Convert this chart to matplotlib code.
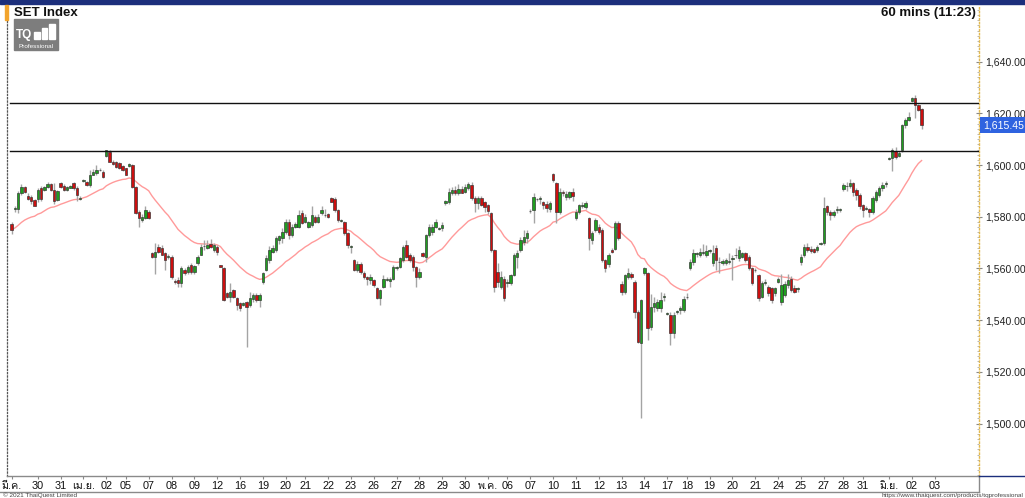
import numpy as np
import pandas as pd
import matplotlib
matplotlib.use("Agg")
import matplotlib.pyplot as plt
from matplotlib import font_manager
from matplotlib.ft2font import FT2Font
from matplotlib.patches import Rectangle
from matplotlib.lines import Line2D
from matplotlib.ticker import MultipleLocator
from matplotlib.transforms import blended_transform_factory

# ----------------------------------------------------------------------------
# data: SET Index, 60 min bars, 29 Mar - 2 Jun
# ----------------------------------------------------------------------------
opens = [
    1577, 1583, 1583, 1589, 1591.5, 1588, 1587.5, 1586.5, 1587, 1591,
    1590.5, 1591.5, 1592.5, 1590.5, 1586.5, 1593, 1592, 1590.4, 1591.3, 1593,
    1591, 1587, 1594, 1593.6, 1592.3, 1596.2, 1596.8, 1598, 1597.4, 1603.3,
    1605.2, 1601.3, 1601, 1600.6, 1599.6, 1598.7, 1599.6, 1600, 1591.6, 1582,
    1578.7, 1579.4, 1582, 1566, 1564.5, 1568.2, 1567.8, 1565.8, 1564.5, 1564.5,
    1555, 1555.5, 1554.2, 1559.4, 1558.7, 1561.3, 1558.5, 1562, 1565.2, 1568.5,
    1567.8, 1569.5, 1567.1, 1568.4, 1561.3, 1560, 1550.4, 1549.1, 1551.6, 1548.4,
    1546.5, 1546, 1547.1, 1545.8, 1548.1, 1549.7, 1547.8, 1554.9, 1559.4, 1563.2,
    1566.5, 1567.1, 1571, 1571.6, 1574.2, 1578.1, 1572.9, 1576.1, 1576.1, 1581.3,
    1578, 1576.1, 1576.8, 1580, 1578.1, 1581.3, 1580.5, 1581, 1587.1, 1586.7,
    1582.6, 1578.4, 1578.1, 1573.6, 1568.4, 1563.2, 1559.4, 1561.9, 1558.3, 1556.5,
    1555.5, 1555.5, 1552.3, 1548.4, 1552.9, 1555.6, 1555.1, 1556.1, 1560.3, 1560.7,
    1563.2, 1569, 1565.2, 1564.5, 1560.7, 1556.8, 1565.8, 1564.5, 1572.9, 1574.2,
    1576.1, 1575.3, 1575.5, 1585.2, 1585.8, 1589, 1590.3, 1589, 1590.9, 1589.7,
    1591.3, 1592.2, 1587.1, 1585.2, 1587.1, 1585.5, 1584.5, 1581.3, 1567.1, 1558.7,
    1552.9, 1556.1, 1554.2, 1554.2, 1557.5, 1564.5, 1567.1, 1570.3, 1571.6, 1582.1,
    1582.6, 1586.7, 1586.7, 1585.5, 1584.8, 1582.9, 1596.5, 1593.2, 1581.9, 1589.7,
    1587.5, 1587.7, 1589.7, 1579.4, 1581.9, 1584.3, 1583.9, 1579.4, 1571, 1574.9,
    1576.1, 1574.9, 1563.2, 1561.9, 1567.3, 1567.7, 1577.7, 1554, 1551, 1556.8,
    1557.8, 1554.9, 1543.3, 1531, 1558.1, 1558.1, 1537.4, 1545.2, 1544.5, 1544.5,
    1548.8, 1542.5, 1542, 1534.9, 1543.2, 1543.9, 1543.9, 1548.8, 1560, 1562.6,
    1565.6, 1565.2, 1566, 1565.2, 1566.8, 1562, 1567.8, 1562.4, 1562, 1562,
    1562.5, 1563.8, 1565.1, 1563.9, 1564.5, 1565.8, 1564.5, 1560, 1559.2, 1557.4,
    1549.1, 1554.2, 1552.9, 1552.3, 1550.4, 1554.9, 1547.1, 1549.7, 1553.6, 1555.8,
    1552.3, 1552.2, 1562.6, 1565.2, 1568.4, 1567.7, 1567.7, 1567.1, 1569.6, 1569.7,
    1584.1, 1581.9, 1580.6, 1582.7, 1582.7, 1590.6, 1591.8, 1591.9, 1592.9, 1590.3,
    1588.4, 1584.5, 1583.1, 1582.8, 1581.9, 1586.5, 1588.4, 1591, 1592.8, 1602.4,
    1602.6, 1605.5, 1603.5, 1605.8, 1615.4, 1617.6, 1624.9, 1625.8, 1623.2, 1621.5,
]
highs = [
    1578, 1584, 1590, 1592.5, 1592, 1589, 1588.5, 1587, 1591, 1592,
    1592, 1593.5, 1593, 1593, 1590.5, 1593.5, 1592.5, 1592, 1592.3, 1593.5,
    1592, 1588, 1594.5, 1594, 1598, 1598.5, 1600, 1598.8, 1598, 1606,
    1605.8, 1602, 1601.5, 1601, 1600, 1599, 1600.8, 1600.5, 1592, 1582.5,
    1581, 1584, 1582.5, 1566.5, 1569.7, 1569.5, 1569, 1566.5, 1565.5, 1565,
    1556, 1556.8, 1561, 1560, 1561.5, 1562, 1561.5, 1565, 1569.5, 1571,
    1571, 1571.5, 1570, 1569, 1561.5, 1560.5, 1551, 1554.5, 1552, 1549,
    1547, 1547, 1547.5, 1551, 1550.5, 1550.5, 1550.5, 1558.5, 1565, 1568.5,
    1569, 1572.5, 1573, 1575.5, 1579, 1579, 1577, 1578, 1582.5, 1582.5,
    1581, 1578.5, 1584, 1580.5, 1581, 1584, 1583, 1581.5, 1587.5, 1587.5,
    1583, 1579, 1578.5, 1574, 1569, 1563.5, 1563, 1562.5, 1559, 1557,
    1558, 1556, 1553, 1552, 1557.5, 1556.5, 1556.5, 1561.5, 1561, 1564.5,
    1569, 1571, 1566, 1565, 1561, 1560, 1566.5, 1573.5, 1577, 1577,
    1579, 1576, 1578, 1586.5, 1591, 1591.5, 1592, 1592.5, 1592, 1592.5,
    1593.5, 1593.5, 1588, 1588, 1588, 1586, 1585, 1582, 1567.5, 1562,
    1559, 1557, 1556, 1558, 1566, 1567, 1572, 1575, 1575, 1583,
    1589, 1587.3, 1588, 1586, 1586, 1586, 1597, 1593.5, 1591, 1590.5,
    1590, 1590, 1591, 1583, 1585, 1585.8, 1586, 1580, 1574.5, 1579.5,
    1577, 1575.5, 1563.5, 1566, 1568, 1578.5, 1578.5, 1555, 1558, 1560,
    1558.5, 1555.5, 1544, 1548, 1560.5, 1558.5, 1550, 1549, 1548, 1551,
    1550.5, 1543.2, 1543, 1543, 1544, 1545.5, 1549.5, 1550.5, 1563.5, 1567.5,
    1566.5, 1568, 1569.5, 1569, 1567.5, 1569, 1569, 1564.5, 1563.5, 1564,
    1565.8, 1565, 1567.8, 1568.5, 1566.5, 1566.5, 1565, 1560.5, 1560, 1558,
    1555, 1556, 1553.5, 1553, 1553, 1556.5, 1558, 1555, 1558, 1557,
    1553.5, 1553, 1565.5, 1569.5, 1570, 1568.5, 1568, 1569, 1570.2, 1587.5,
    1584.5, 1582.5, 1582.5, 1584, 1583.5, 1593, 1593.5, 1594.5, 1593.5, 1591,
    1589, 1585, 1584, 1583.5, 1588, 1590.5, 1592, 1593.5, 1594, 1603.2,
    1606.5, 1607, 1605.5, 1616, 1618, 1620.5, 1626.3, 1627, 1623.5, 1622,
]
lows = [
    1573.5, 1582, 1581.5, 1588.5, 1589, 1586.5, 1585, 1584, 1585.8, 1586,
    1590, 1591, 1590, 1585, 1586, 1591, 1590, 1590, 1591, 1590.5,
    1586, 1586.5, 1593.5, 1592, 1591.6, 1596, 1596.2, 1597.5, 1595, 1603,
    1601, 1600, 1599, 1598.5, 1597.5, 1596, 1599.3, 1591, 1581, 1576,
    1578, 1579, 1579, 1564, 1558, 1566, 1565, 1559.4, 1563.5, 1556,
    1554, 1552.9, 1553, 1557.5, 1558, 1558, 1558, 1561.5, 1565, 1567,
    1567.5, 1568, 1566.5, 1565, 1560.5, 1547.5, 1548.5, 1547, 1548.5, 1544,
    1543.5, 1545.5, 1529.6, 1545, 1547, 1547, 1545, 1554, 1559, 1562,
    1566, 1566.5, 1569.5, 1570, 1573.5, 1571.5, 1572, 1575.5, 1575.5, 1577,
    1577.5, 1575.5, 1576, 1577.5, 1577.5, 1580.5, 1580, 1579.5, 1585.5, 1582,
    1578, 1578, 1573, 1568, 1565.8, 1559, 1558.5, 1558, 1556, 1553.5,
    1554, 1553, 1548, 1546, 1552.5, 1555, 1553, 1555.5, 1559.5, 1560,
    1562.5, 1564, 1562.5, 1559, 1553, 1556, 1564.5, 1562.5, 1572, 1573,
    1575.5, 1575, 1574.5, 1584.5, 1585, 1588.5, 1588.5, 1588.5, 1589, 1589,
    1590.5, 1586.5, 1582, 1583, 1584, 1582, 1581, 1566.5, 1551, 1553,
    1552, 1547.5, 1553, 1553.5, 1557, 1560, 1566.5, 1569, 1570, 1581.5,
    1577.5, 1586.2, 1585, 1583, 1582, 1582, 1593.5, 1577.5, 1581, 1588,
    1586.5, 1587, 1586, 1578.7, 1581, 1583.2, 1583, 1567, 1569.5, 1574,
    1573.5, 1562.5, 1558.5, 1560.5, 1566, 1567, 1571, 1549.7, 1550, 1556,
    1556, 1541, 1531, 1502, 1557.5, 1532.5, 1536, 1543, 1543.5, 1543,
    1547.5, 1542, 1530.5, 1533, 1542.5, 1542.5, 1543, 1548, 1559.5, 1561.5,
    1564.5, 1564.5, 1565, 1564.5, 1566, 1561, 1559.5, 1558.1, 1561.5, 1561.5,
    1561.6, 1555.5, 1563.9, 1563, 1564, 1562.5, 1559.5, 1553.5, 1558.5, 1547.5,
    1548.5, 1553.5, 1549.5, 1546.5, 1549.5, 1554.5, 1546, 1549, 1552.5, 1551,
    1550.5, 1551, 1561.5, 1564.5, 1566.5, 1566, 1566, 1566.5, 1569, 1569,
    1580.5, 1578.7, 1580, 1581.5, 1582, 1590, 1590, 1591, 1588, 1586.5,
    1583, 1580, 1582.5, 1580, 1581, 1585.5, 1587.5, 1590, 1591.5, 1602,
    1597.5, 1602.5, 1603, 1605, 1614.5, 1617, 1624.5, 1618, 1620.8, 1614,
]
closes = [
    1575, 1583.5, 1589, 1591.5, 1589.5, 1587, 1586, 1584, 1590.5, 1587,
    1591.5, 1592.8, 1590.5, 1586, 1590, 1591.5, 1590.5, 1591.6, 1591.8, 1591,
    1588.5, 1587.3, 1594, 1592.3, 1596.2, 1597.4, 1598.1, 1598.2, 1595.3, 1605.8,
    1601.3, 1600.4, 1599.4, 1598.7, 1598.1, 1596.2, 1600.2, 1591.6, 1581.3, 1579.4,
    1580, 1582.6, 1579.4, 1564.5, 1566.4, 1566.4, 1565.2, 1563.3, 1564.7, 1556.8,
    1554.9, 1554.2, 1560, 1558.1, 1560.6, 1558.7, 1561, 1564.5, 1568.4, 1568.7,
    1569.1, 1568.4, 1569.1, 1566.5, 1560.7, 1547.8, 1549.1, 1551, 1549.1, 1545.8,
    1544.6, 1546.5, 1545.2, 1548.4, 1549.7, 1547.8, 1549.7, 1558.1, 1563.9, 1567.1,
    1567.8, 1571.6, 1572.5, 1574.2, 1578.1, 1572.9, 1576.1, 1577, 1580.6, 1577.4,
    1580, 1578.1, 1580.6, 1578.1, 1580, 1582.6, 1580.7, 1580, 1585.8, 1582.6,
    1578.7, 1578.6, 1573.6, 1569, 1568.5, 1559.4, 1561.9, 1558.7, 1556.8, 1555.8,
    1556.8, 1553.6, 1548.4, 1551.6, 1556.1, 1555.8, 1555.8, 1560.7, 1560.4, 1563.9,
    1568.4, 1564.5, 1563.2, 1560.7, 1556.8, 1558.7, 1564.8, 1572.9, 1576.1, 1576.1,
    1578.1, 1575.5, 1576.8, 1586.2, 1589.7, 1590.3, 1589, 1590.9, 1589.3, 1591.6,
    1592.6, 1587.1, 1585.2, 1587.1, 1584.5, 1583.9, 1582.3, 1567.1, 1552.9, 1554.9,
    1556.8, 1548.4, 1554.9, 1557.5, 1565.2, 1565.8, 1571, 1572.3, 1573.6, 1582.4,
    1587.7, 1586.9, 1587.4, 1584.5, 1583.2, 1585.2, 1594.2, 1581.9, 1589.7, 1589.1,
    1588.8, 1589.7, 1588.1, 1581.9, 1584.5, 1584.5, 1585.2, 1571.6, 1573.6, 1578.7,
    1574.2, 1563.2, 1560, 1565.2, 1566.5, 1577.7, 1571.6, 1551, 1557.4, 1558.1,
    1556.8, 1543.3, 1531.6, 1547.8, 1560.1, 1536.8, 1545.2, 1546.8, 1547.1, 1547.8,
    1549.2, 1542.7, 1534.9, 1542, 1543.4, 1544.8, 1548, 1549.1, 1562.6, 1565.8,
    1565.8, 1566.5, 1566.2, 1566.8, 1566.9, 1566.1, 1563.2, 1562.6, 1562.9, 1563.2,
    1562.7, 1564, 1565.3, 1567.1, 1565.8, 1563.2, 1560, 1554.2, 1559.5, 1548.4,
    1554.2, 1554.9, 1550.4, 1547.8, 1552.3, 1555.8, 1553.6, 1553.9, 1555.5, 1551.6,
    1551, 1552.4, 1564.5, 1568.4, 1567.1, 1566.8, 1566.5, 1568.4, 1569.8, 1583.2,
    1581.9, 1580.6, 1581.9, 1582.9, 1582.9, 1592.3, 1592, 1592.9, 1589.7, 1588.4,
    1584.1, 1582.6, 1583.3, 1581.9, 1587.1, 1589.7, 1591, 1592.3, 1593, 1602.8,
    1605.8, 1603.2, 1604.8, 1615.5, 1617.4, 1618.4, 1625.8, 1623.2, 1621.3, 1615.45,
]

# trading days shown on the time axis and the number of hourly bars in each
day_labels = ['มี.ค.', '30', '31', 'เม.ย.', '02', '05', '07', '08', '09', '12',
              '16', '19', '20', '21', '22', '23', '26', '27', '28', '29',
              '30', 'พ.ค.', '06', '07', '10', '11', '12', '13', '14', '17',
              '18', '19', '20', '21', '24', '25', '27', '28', '31', 'มิ.ย.',
              '02', '03']
day_slots = [8, 7, 7, 7, 6, 7, 7, 7, 7, 7,
             7, 7, 6, 7, 7, 7, 7, 7, 7, 7,
             7, 6, 7, 7, 7, 7, 7, 7, 7, 6,
             7, 7, 7, 7, 7, 7, 6, 6, 8, 7,
             7]

# horizontal support / resistance lines drawn by the user
levels = [1624.0, 1605.4]
price_ticks = [1500, 1520, 1540, 1560, 1580, 1600, 1620, 1640]
ma_span = 25

# ----------------------------------------------------------------------------
# fonts (Thai month names need a font with Thai glyphs)
# ----------------------------------------------------------------------------
def find_thai_font():
    for f in font_manager.fontManager.ttflist:
        try:
            if 0x0E21 in FT2Font(f.fname).get_charmap():
                return f.name
        except Exception:
            pass
    return None

thai = find_thai_font()
families = ['Liberation Sans']
if thai:
    families.append(thai)
families.append('DejaVu Sans')
plt.rcParams['font.family'] = families

# ----------------------------------------------------------------------------
# figure
# ----------------------------------------------------------------------------
W, H = 1025, 498
fig = plt.figure(figsize=(W / 100, H / 100), dpi=100)
fig.patch.set_facecolor('white')
ax = fig.add_axes([7 / W, 1 - 476 / H, (979 - 7) / W, (476 - 5) / H])

o = np.array(opens)
h = np.array(highs)
l = np.array(lows)
c = np.array(closes)
x = np.arange(len(c))
up = c >= o

# wicks
ax.vlines(x, l, h, color='#a4a4a4', lw=1.0, zorder=2)
# bodies
body_lo = np.minimum(o, c)
body_h = np.maximum(np.abs(c - o), 0.15)
colors = np.where(up, '#1f9e1f', '#cc0f0f')
ax.bar(x, body_h, bottom=body_lo, width=0.74, color=colors,
       edgecolor='#303030', linewidth=0.45, zorder=3)

# exponential moving average of the closes
ma = pd.Series(c).ewm(span=ma_span, adjust=False).mean()
ax.plot(x, ma, color='#ff9a9a', lw=1.0, zorder=1)

for lv in levels:
    ax.axhline(lv, xmin=0.003, color='#111111', lw=1.0, zorder=4)

ax.set_xlim(-1.44, 296.6)
ax.set_ylim(1479.7, 1661.9)

# axes styling
ax.spines['top'].set_visible(False)
ax.spines['left'].set_linestyle(':')
ax.spines['left'].set_color('#555555')
ax.spines['left'].set_linewidth(0.9)
ax.spines['right'].set_linestyle(':')
ax.spines['right'].set_color('#e3b94e')
ax.spines['right'].set_linewidth(1.0)
ax.spines['bottom'].set_color('#8a8a8a')
ax.spines['bottom'].set_linewidth(1.0)

ax.yaxis.tick_right()
ax.set_yticks(price_ticks)
ax.set_yticklabels([f"{v:,.2f}" for v in price_ticks])
ax.yaxis.set_minor_locator(MultipleLocator(2))
ax.tick_params(axis='y', which='major', direction='inout', length=4, pad=2.5,
               labelsize=7.6, colors='#888888', labelcolor='#222222')
ax.tick_params(axis='y', which='minor', direction='in', length=1.5,
               color='#aaaaaa')
ax.tick_params(axis='y', which='both', left=False)

tick_pos = np.concatenate([[0], np.cumsum(day_slots)])
ax.set_xticks(tick_pos)
ax.set_xticklabels(day_labels)
ax.tick_params(axis='x', length=2, pad=1.5, color='#888888', labelsize=7.8,
               labelcolor='#111111')

# current price tag
tr = blended_transform_factory(ax.transAxes, ax.transData)
ax.text(1.004, c[-1], f"{c[-1]:,.2f}", transform=tr, color='white',
        fontsize=7.6, va='center', ha='left', zorder=6,
        bbox=dict(boxstyle='square,pad=0.25', fc='#2f63e0', ec='none'))

# ----------------------------------------------------------------------------
# frame decorations
# ----------------------------------------------------------------------------
def fx(px):
    return px / W

def fy(py):
    return 1 - py / H

fig.add_artist(Rectangle((0, fy(4)), 1, 4 / H, transform=fig.transFigure,
                         color='#1c2f7c', zorder=5))
fig.add_artist(Rectangle((fx(5), fy(20)), 2.5 / W, 15 / H,
                         transform=fig.transFigure, color='#f2a42c', zorder=5))
fig.add_artist(Line2D([0, fx(979)], [fy(492), fy(492)], color='#8a8a8a', lw=1))
fig.add_artist(Line2D([fx(979), fx(979)], [fy(476), fy(492)], color='#8a8a8a', lw=1))
fig.add_artist(Line2D([fx(979), 1], [fy(476), fy(476)], color='#1c2f7c', lw=1))

fig.text(fx(14), fy(13), 'SET Index', fontsize=9.5, fontweight='bold',
         va='center', ha='left', color='#111111')
fig.text(fx(976), fy(13), '60 mins (11:23)', fontsize=9.5, fontweight='bold',
         va='center', ha='right', color='#111111')

# TQ logo
fig.add_artist(Rectangle((fx(14), fy(50)), 44 / W, 31 / H,
                         transform=fig.transFigure, color='#7d7d7d', zorder=5))
fig.text(fx(16), fy(35), 'TQ', fontsize=8.5, fontweight='bold', color='white',
         va='center', ha='left', zorder=6)
for i, bh in enumerate([7, 11, 15]):
    fig.add_artist(Rectangle((fx(34 + i * 7.5), fy(39)), 5.5 / W, bh / H,
                             transform=fig.transFigure, color='white', zorder=6))
fig.text(fx(36), fy(46), 'Professional', fontsize=4.6, color='white',
         va='center', ha='center', zorder=6)

fig.text(fx(3), fy(495), '© 2021 ThaiQuest Limited', fontsize=4.6,
         color='#444444', va='center', ha='left')
fig.text(fx(1023), fy(495), 'https://www.thaiquest.com/products/tqprofessional',
         fontsize=4.6, color='#444444', va='center', ha='right')

fig.savefig('out.png', dpi=100)
